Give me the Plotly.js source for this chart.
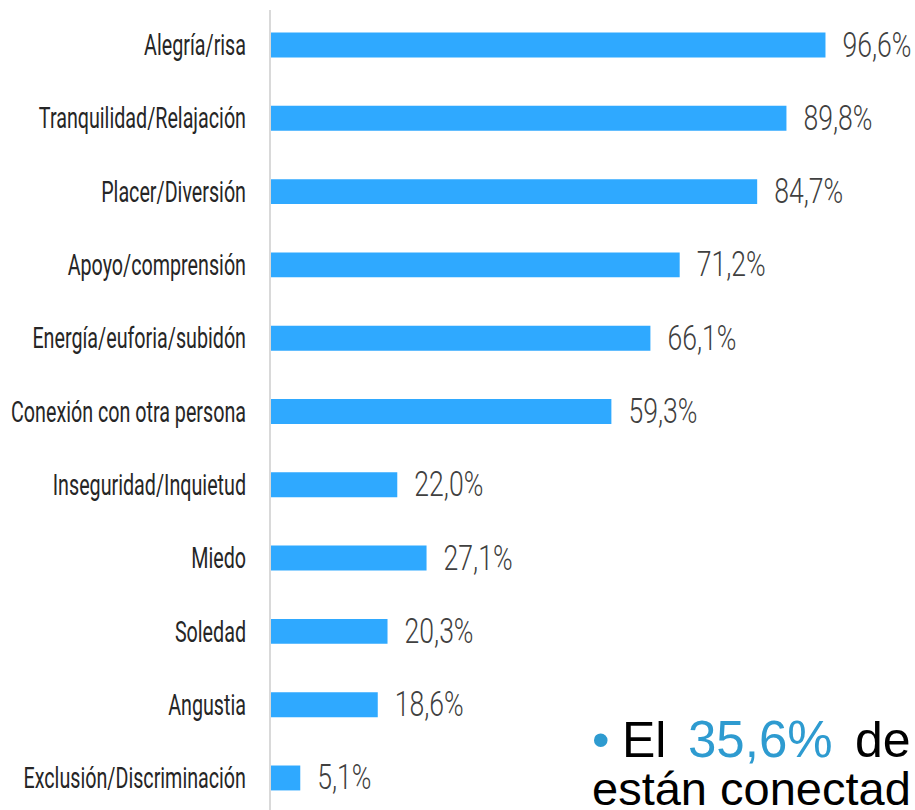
<!DOCTYPE html>
<html>
<head>
<meta charset="utf-8">
<script src="https://cdn.plot.ly/plotly-3.0.1.min.js"></script>
<style>html,body{margin:0;padding:0;background:#fff;}#chart{width:915px;height:810px;}</style>
</head>
<body>
<div id="chart"></div>
<script>
const categories = [
  "Alegría/risa",
  "Tranquilidad/Relajación",
  "Placer/Diversión",
  "Apoyo/comprensión",
  "Energía/euforia/subidón",
  "Conexión con otra persona",
  "Inseguridad/Inquietud",
  "Miedo",
  "Soledad",
  "Angustia",
  "Exclusión/Discriminación"
];
const values = [96.6, 89.8, 84.7, 71.2, 66.1, 59.3, 22.0, 27.1, 20.3, 18.6, 5.1];
const valueLabels = values.map(v => v.toFixed(1).replace(".", ",") + "%");

// side note text (cut off at the right edge in the original)
const noteLine1 = ["•", "El", "35,6%", "de"];
const noteLine2 = "están conectad";

const labelFont = "Roboto, 'DejaVu Sans', sans-serif";
const noteFamily = "Liberation Sans, Arial, sans-serif";
const accent = "#2E9BD0";

const trace = {
  type: "bar",
  orientation: "h",
  x: values,
  y: categories,
  text: valueLabels,
  textposition: "outside",
  constraintext: "none",
  cliponaxis: false,
  textfont: {family: labelFont, size: 35, color: "#404040", weight: 300},
  marker: {color: "#2FA9FF"},
  hoverinfo: "skip"
};

function note(text, x, y, size, color) {
  return {
    xref: "paper", yref: "paper", x: x, y: y,
    xanchor: "left", yanchor: "middle", showarrow: false, align: "left",
    text: text,
    font: {family: noteFamily, size: size, color: color || "#000000"}
  };
}

const layout = {
  width: 915,
  height: 810,
  margin: {l: 271, r: 69.5, t: 10, b: 0, pad: 0},
  paper_bgcolor: "#ffffff",
  plot_bgcolor: "#ffffff",
  showlegend: false,
  bargap: 0.66,
  xaxis: {
    range: [0, 100],
    showgrid: false,
    zeroline: false,
    showline: false,
    showticklabels: false,
    ticks: "",
    fixedrange: true
  },
  yaxis: {
    type: "category",
    range: [10.437, -0.4775],
    showgrid: false,
    zeroline: false,
    showline: true,
    linecolor: "#d9d9d9",
    linewidth: 2,
    ticks: "",
    ticklabelstandoff: 18,
    tickfont: {family: labelFont, size: 29, color: "#262626"},
    fixedrange: true
  },
  annotations: [
    note(noteLine1[0], 0.5553, 0.0881, 50, accent),
    note(noteLine1[1], 0.6075, 0.0881, 50),
    note(noteLine1[2], 0.7224, 0.0881, 51, accent),
    note(noteLine1[3], 1.0140, 0.0881, 50),
    note(noteLine2, 0.5553, 0.0270, 47)
  ]
};

// Emulate the condensed display face of the original by horizontally
// compressing the label glyphs, keeping the anchoring edge in place.
function condense(el, scale, edge, target) {
  const w = el.getComputedTextLength();
  el.setAttribute("lengthAdjust", "spacingAndGlyphs");
  el.setAttribute("textLength", (w * scale).toFixed(2));
  const after = el.getBoundingClientRect();
  const x0 = parseFloat(el.getAttribute("x")) || 0;
  const dx = edge === "right" ? target - after.right : target - after.left;
  el.setAttribute("x", (x0 + dx).toFixed(2));
}

const gd = document.getElementById("chart");
Plotly.newPlot(gd, [trace], layout, {displayModeBar: false, staticPlot: true}).then(() => {
  const origin = gd.getBoundingClientRect();
  const fl = gd._fullLayout;
  const xa = fl.xaxis;
  const ticks = Array.from(gd.querySelectorAll(".ytick text"));
  let longest = null;
  ticks.forEach(t => { if (t.textContent === "Conexión con otra persona") longest = t; });
  const tickScale = longest ? 235 / longest.getComputedTextLength() : 0.72;
  ticks.forEach(t => condense(t, tickScale, "right", origin.left + 246));

  const bt = Array.from(gd.querySelectorAll("text.bartext"));
  let vScale = 0.7;
  if (bt.length) vScale = 69 / bt[0].getComputedTextLength();
  bt.forEach((t, i) => {
    const endPx = origin.left + fl.margin.l + xa.l2p(values[i]);
    condense(t, vScale, "left", endPx + 17);
  });
});
</script>
</body>
</html>
